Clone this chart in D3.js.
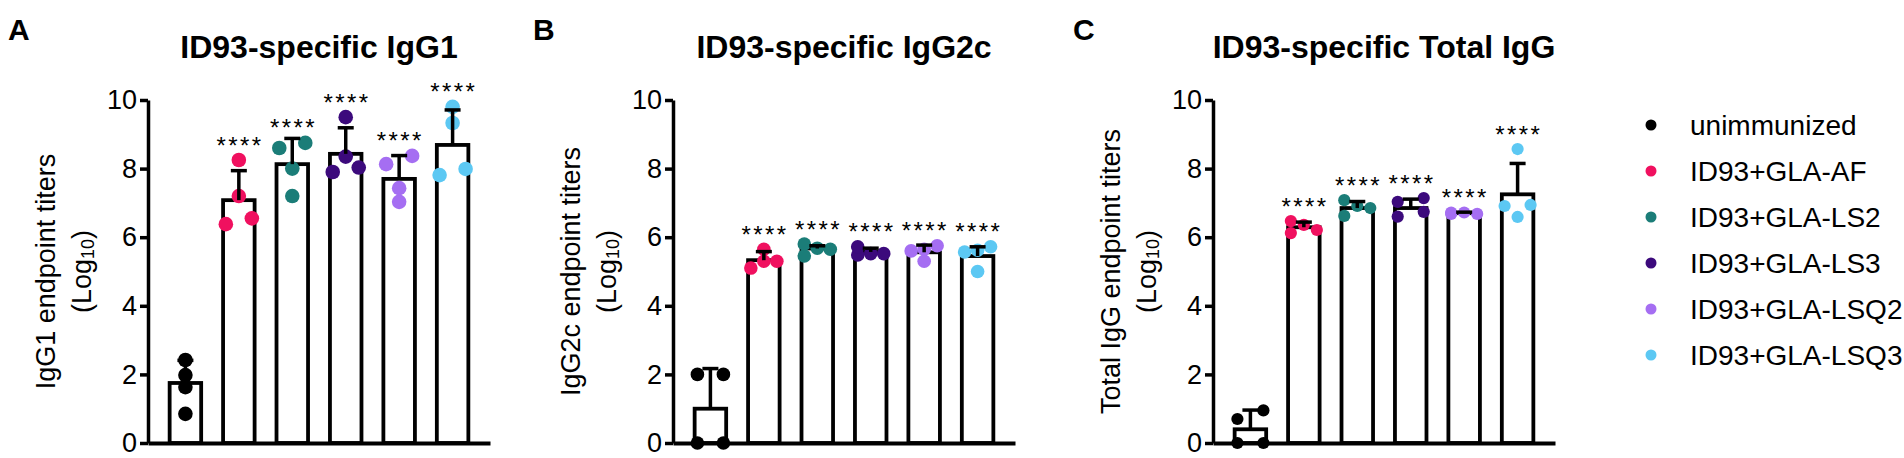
<!DOCTYPE html>
<html>
<head>
<meta charset="utf-8">
<script src="https://cdn.jsdelivr.net/npm/d3@7"></script>
<style>
  body { margin: 0; background: #fff; }
  svg { display: block; }
  text { font-family: "Liberation Sans", Arial, sans-serif; fill: #000; }
</style>
</head>
<body>
<script>
// groups and colours
const groups = ['unimmunized', 'ID93+GLA-AF', 'ID93+GLA-LS2', 'ID93+GLA-LS3', 'ID93+GLA-LSQ2', 'ID93+GLA-LSQ3'];
const colors = ['#000000', '#f0105f', '#1b7d78', '#3c0a7c', '#a56ef2', '#5cc8f3'];
const yTicks = [0, 2, 4, 6, 8, 10];

// A - IgG1 (log10 titers per mouse, bar = mean, error = SD)
const igg1Dots = [
    [2.42, 1.98, 1.63, 0.85],
    [8.25, 7.20, 6.55, 6.38],
    [8.75, 8.60, 8.00, 7.20],
    [9.50, 8.35, 8.03, 7.90],
    [8.37, 8.13, 7.43, 7.03],
    [9.80, 9.33, 7.99, 7.81]
];
const igg1Mean = [1.75, 7.08, 8.13, 8.43, 7.70, 8.69];
const igg1SD   = [0.66, 0.86, 0.75, 0.76, 0.68, 1.02];

// B - IgG2c
const igg2cDots = [
    [2.00, 2.00, 0.00, 0.00],
    [5.65, 5.30, 5.30, 5.10],
    [5.80, 5.68, 5.65, 5.45],
    [5.72, 5.52, 5.52, 5.48],
    [5.75, 5.65, 5.60, 5.30],
    [5.72, 5.62, 5.57, 5.00]
];
const igg2cMean = [1.00, 5.33, 5.67, 5.57, 5.56, 5.45];
const igg2cSD   = [1.17, 0.25, 0.08, 0.11, 0.21, 0.27];

// C - Total IgG
const totalDots = [
    [0.95, 0.70, 0.00, 0.00],
    [6.47, 6.36, 6.21, 6.12],
    [7.08, 6.91, 6.85, 6.62],
    [7.14, 7.03, 6.74, 6.60],
    [6.72, 6.72, 6.68, 6.68],
    [8.57, 6.94, 6.91, 6.59]
];
const totalMean = [0.40, 6.29, 6.85, 6.85, 6.70, 7.25];
const totalSD   = [0.56, 0.15, 0.19, 0.26, 0.03, 0.90];

const panels = [
    { letter: 'A', title: 'ID93-specific IgG1', label: 'IgG1 endpoint titers', dots: igg1Dots, mean: igg1Mean, sd: igg1SD, x0: 148, r: 7.3 },
    { letter: 'B', title: 'ID93-specific IgG2c', label: 'IgG2c endpoint titers', dots: igg2cDots, mean: igg2cMean, sd: igg2cSD, x0: 673, r: 6.8 },
    { letter: 'C', title: 'ID93-specific Total IgG', label: 'Total IgG endpoint titers', dots: totalDots, mean: totalMean, sd: totalSD, x0: 1213, r: 6.1 }
];

const W = 1904, H = 458;
const plotW = 342, yTop = 100, yBot = 443;

const svg = d3.select('body').append('svg')
    .attr('width', W)
    .attr('height', H)
    .style('background-color', '#fff');

const y = d3.scaleLinear().domain([0, 10]).range([yBot, yTop]);

// Prism-like scatter: close values share a row and are spread sideways
const slotPatterns = { 1: [0], 2: [-1, 1], 3: [-1, 0, 1], 4: [-1, 1, 0, -1] };
function spread(values) {
    const sorted = values.slice().sort((a, b) => a - b);
    const out = [];
    let cluster = [sorted[0]];
    const flush = () => {
        const pat = slotPatterns[cluster.length] || slotPatterns[4];
        cluster.forEach((v, i) => out.push({ v: v, slot: pat[i % pat.length] }));
    };
    for (let i = 1; i < sorted.length; i++) {
        if (y(sorted[i - 1]) - y(sorted[i]) < 9) cluster.push(sorted[i]);
        else { flush(); cluster = [sorted[i]]; }
    }
    flush();
    return out;
}

panels.forEach(p => {
    const g = svg.append('g').attr('transform', `translate(${p.x0},0)`);

    const x = d3.scaleBand()
        .domain(groups)
        .range([0, plotW])
        .paddingInner(0.41)
        .paddingOuter(0.405);
    const bw = x.bandwidth();
    const cx = d => x(d) + bw / 2;

    // panel letter + title
    svg.append('text')
        .attr('x', p.x0 - 140).attr('y', 40)
        .style('font-size', '30px').style('font-weight', 'bold')
        .text(p.letter);
    g.append('text')
        .attr('x', plotW / 2).attr('y', 58)
        .attr('text-anchor', 'middle')
        .style('font-size', '32px').style('font-weight', 'bold')
        .text(p.title);

    // bars
    g.selectAll('rect.bar')
        .data(groups)
        .enter()
        .append('rect')
        .attr('class', 'bar')
        .attr('x', d => x(d))
        .attr('y', (d, i) => y(p.mean[i]))
        .attr('width', bw)
        .attr('height', (d, i) => yBot - y(p.mean[i]))
        .attr('fill', '#fff')
        .attr('stroke', '#000')
        .attr('stroke-width', 3.8);

    // axes
    const yAxis = g.append('g')
        .call(d3.axisLeft(y).tickValues(yTicks).tickSize(8).tickSizeOuter(0).tickPadding(3).tickFormat(d3.format('d')));
    yAxis.selectAll('path, line').attr('stroke', '#000').attr('stroke-width', 3.5);
    yAxis.selectAll('text').style('font-size', '27px').attr('fill', '#000');

    const xAxis = g.append('g')
        .attr('transform', `translate(0,${yBot})`)
        .call(d3.axisBottom(x).tickSize(0).tickSizeOuter(0).tickFormat(''));
    xAxis.select('path').attr('stroke', '#000').attr('stroke-width', 4);

    // dots
    groups.forEach((grp, i) => {
        g.selectAll(null)
            .data(spread(p.dots[i]))
            .enter()
            .append('circle')
            .attr('cx', d => cx(grp) + d.slot * 13)
            .attr('cy', d => y(d.v))
            .attr('r', p.r)
            .attr('fill', colors[i]);
    });

    // error bars (mean + SD)
    const err = g.selectAll('g.err')
        .data(groups)
        .enter()
        .append('g')
        .attr('class', 'err')
        .attr('stroke', '#000')
        .attr('stroke-width', 3.5);
    err.append('line')
        .attr('x1', d => cx(d)).attr('x2', d => cx(d))
        .attr('y1', (d, i) => y(p.mean[i]))
        .attr('y2', (d, i) => y(p.mean[i] + p.sd[i]));
    err.append('line')
        .attr('x1', d => cx(d) - 8).attr('x2', d => cx(d) + 8)
        .attr('y1', (d, i) => y(p.mean[i] + p.sd[i]))
        .attr('y2', (d, i) => y(p.mean[i] + p.sd[i]));

    // significance stars
    g.selectAll('text.star')
        .data(groups.slice(1))
        .enter()
        .append('text')
        .attr('class', 'star')
        .attr('x', d => cx(d) + 1.2)
        .attr('y', (d, j) => {
            const i = j + 1;
            const top = Math.min(y(d3.max(p.dots[i])) - 20, y(p.mean[i] + p.sd[i]) - 15);
            return top + 13.5;
        })
        .attr('text-anchor', 'middle')
        .style('font-size', '24px')
        .style('letter-spacing', '2.4px')
        .text('****');

    // y label
    const midY = (yTop + yBot) / 2;
    g.append('text')
        .attr('transform', `translate(-102,${midY}) rotate(-90)`)
        .attr('text-anchor', 'middle')
        .attr('dominant-baseline', 'central')
        .style('font-size', '27px')
        .text(p.label);
    const l2 = g.append('text')
        .attr('transform', `translate(-66,${midY}) rotate(-90)`)
        .attr('text-anchor', 'middle')
        .attr('dominant-baseline', 'central')
        .style('font-size', '27px');
    l2.append('tspan').text('(Log');
    l2.append('tspan').style('font-size', '18px').attr('dy', 6).text('10');
    l2.append('tspan').attr('dy', -6).text(')');
});

// legend
const legend = svg.append('g').attr('transform', 'translate(1651,125)');
const item = legend.selectAll('g')
    .data(groups)
    .enter()
    .append('g')
    .attr('transform', (d, i) => `translate(0,${i * 46})`);
item.append('circle')
    .attr('r', 5.5)
    .attr('fill', (d, i) => colors[i]);
item.append('text')
    .attr('x', 39)
    .attr('dominant-baseline', 'central')
    .style('font-size', '28px')
    .text(d => d);
</script>
</body>
</html>
